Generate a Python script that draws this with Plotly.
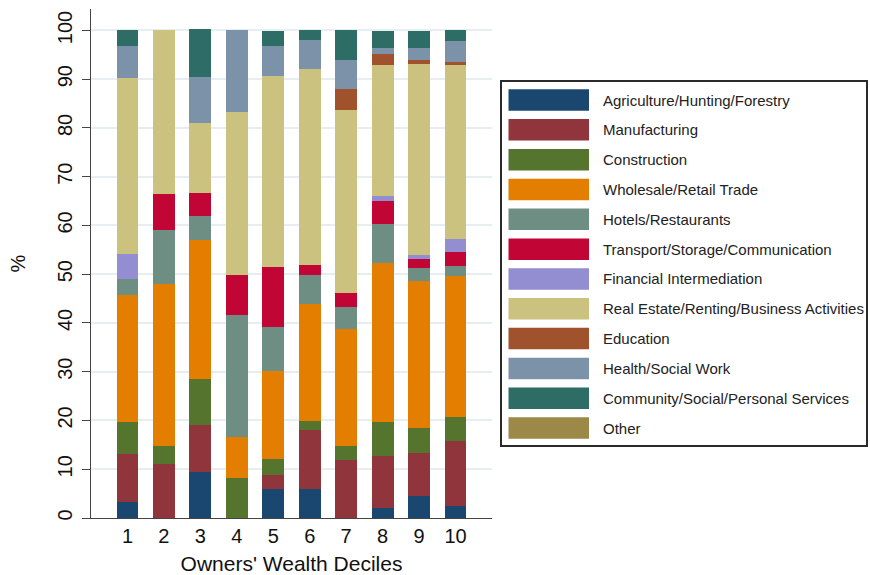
import plotly.graph_objects as go

deciles = ["1", "2", "3", "4", "5", "6", "7", "8", "9", "10"]
y_ticks = [0, 10, 20, 30, 40, 50, 60, 70, 80, 90, 100]

sectors = [
    "Agriculture/Hunting/Forestry",
    "Manufacturing",
    "Construction",
    "Wholesale/Retail Trade",
    "Hotels/Restaurants",
    "Transport/Storage/Communication",
    "Financial Intermediation",
    "Real Estate/Renting/Business Activities",
    "Education",
    "Health/Social Work",
    "Community/Social/Personal Services",
    "Other",
]

agriculture = [3.3, 0, 9.5, 0, 5.9, 5.9, 0, 2.1, 4.45, 2.4]
manufacturing = [9.8, 11.1, 9.5, 0, 3.0, 12.1, 11.85, 10.55, 8.85, 13.35]
construction = [6.6, 3.6, 9.6, 8.2, 3.1, 1.86, 2.85, 7.0, 5.1, 4.95]
wholesale = [26.1, 33.3, 28.5, 8.4, 18.05, 24.11, 24.1, 32.6, 30.2, 28.95]
hotels = [3.3, 11.1, 4.75, 25.0, 9.1, 5.93, 4.5, 8.0, 2.7, 2.05]
transport = [0, 7.4, 4.75, 8.3, 12.3, 2.0, 2.9, 4.8, 1.85, 2.95]
financial = [5.0, 0, 0, 0, 0, 0, 0, 1.0, 0.8, 2.65]
real_estate = [36.1, 33.5, 14.4, 33.3, 39.25, 40.1, 37.4, 26.9, 39.2, 35.55]
education = [0, 0, 0, 0, 0, 0, 4.35, 2.3, 0.85, 0.6]
health = [6.6, 0, 9.5, 16.8, 6.15, 5.95, 5.9, 1.2, 2.45, 4.3]
community = [3.3, 0, 9.7, 0, 3.1, 2.05, 6.2, 3.5, 3.5, 2.3]
other = [0, 0, 0, 0, 0, 0, 0, 0, 0, 0]

series = [agriculture, manufacturing, construction, wholesale, hotels, transport,
          financial, real_estate, education, health, community, other]

colors = ["#1a476f", "#90353b", "#55752f", "#e37e00", "#6e8e84", "#c10534",
          "#938dd2", "#cac27e", "#a0522d", "#7b92a8", "#2d6d66", "#9c8847"]

FONT = "Liberation Sans, Arial, sans-serif"

fig = go.Figure()
for name, vals, col in zip(sectors, series, colors):
    fig.add_trace(go.Bar(
        x=deciles, y=vals, name=name, marker_color=col,
        marker_line_width=0, width=0.6, showlegend=False,
    ))

# plot area geometry (pixels)
W, H = 870, 575
L, R, T, B = 91, 492, 9, 518
pw, ph = R - L, B - T

def px(x):
    return (x - L) / pw

def py(y):
    return (B - y) / ph

shapes = []
annotations = []
# legend box
shapes.append(dict(type="rect", xref="paper", yref="paper",
                   x0=px(501), x1=px(867), y0=py(446), y1=py(81),
                   line=dict(color="#2a2a2a", width=2), fillcolor="white", layer="above"))
pitch = 29.82
for i, (name, col) in enumerate(zip(sectors, colors)):
    top = 89.3 + i * pitch
    shapes.append(dict(type="rect", xref="paper", yref="paper",
                       x0=px(508.5), x1=px(589), y0=py(top + 21.5), y1=py(top),
                       line=dict(width=0), fillcolor=col, layer="above"))
    annotations.append(dict(xref="paper", yref="paper", x=px(601), y=py(top + 10.75),
                            text=name, showarrow=False, xanchor="left", yanchor="middle",
                            font=dict(family=FONT, size=15, color="#222222")))

fig.update_layout(
    width=W, height=H, autosize=False,
    margin=dict(l=L, r=W - R, t=T, b=H - B, pad=0),
    paper_bgcolor="white", plot_bgcolor="white",
    barmode="stack", bargap=0.4,
    shapes=shapes, annotations=annotations,
    font=dict(family=FONT, color="#111111"),
    xaxis=dict(
        type="category", range=[-1, 10], showgrid=False,
        showline=True, linecolor="#444444", linewidth=1.3,
        ticks="", tickfont=dict(size=20, family=FONT, color="#111111"),
        ticklabelstandoff=0,
        title=dict(text="Owners' Wealth Deciles", font=dict(size=21, family=FONT, color="#111111"),
                   standoff=12),
        automargin=False,
    ),
    yaxis=dict(
        range=[0, 104.4], tickvals=y_ticks, ticktext=[str(v) for v in y_ticks],
        showgrid=True, gridcolor="#e6eef1", gridwidth=1.5,
        zeroline=False,
        showline=True, linecolor="#444444", linewidth=1.3,
        ticks="outside", ticklen=8, tickwidth=1.3, tickcolor="#444444",
        tickangle=-90, tickfont=dict(size=20, family=FONT, color="#111111"),
        ticklabelstandoff=2,
        title=dict(text="%", font=dict(size=20, family=FONT, color="#111111"), standoff=22),
        automargin=False,
    ),
)

fig.write_html("out.html", config={"displayModeBar": False},
               post_script="document.body.style.margin='0px';document.body.style.padding='0px';document.body.style.overflow='hidden';")
